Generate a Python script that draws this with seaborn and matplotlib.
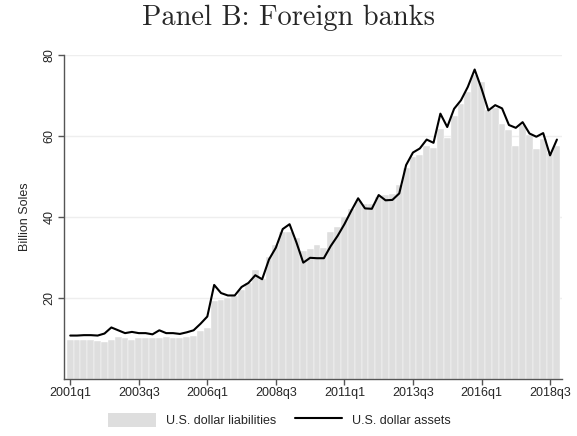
import numpy as np
import pandas as pd
import matplotlib
matplotlib.use("Agg")
import matplotlib.pyplot as plt
import seaborn as sns
from matplotlib.patches import Patch
from matplotlib.lines import Line2D

# quarters 2001q1 .. 2018q4
quarters = [f"{y}q{q}" for y in range(2001, 2019) for q in range(1, 5)]

# U.S. dollar liabilities (bars), billion soles
liabilities = [
    9.7, 9.6, 9.5, 9.5, 9.3, 9.0, 9.5, 10.3, 10.0, 9.7, 10.2, 10.0,
    10.1, 10.2, 10.3, 10.1, 10.2, 10.4, 10.7, 11.8, 12.5, 19.3, 19.4, 20.0,
    20.4, 22.0, 23.7, 27.0, 24.6, 30.0, 33.0, 36.3, 36.3, 34.7, 31.6, 32.0,
    33.1, 32.3, 36.3, 37.5, 39.9, 42.0, 44.0, 43.3, 43.3, 44.9, 45.3, 45.7,
    47.8, 52.0, 54.8, 55.3, 57.6, 57.0, 61.6, 59.5, 65.0, 68.0, 70.8, 75.0,
    73.4, 66.3, 66.8, 63.0, 61.4, 57.6, 62.6, 60.3, 56.8, 59.3, 55.8, 57.6,
]

# U.S. dollar assets (line), billion soles
assets = [
    10.7, 10.7, 10.8, 10.8, 10.7, 11.2, 12.7, 12.0, 11.3, 11.6, 11.3, 11.3,
    11.0, 12.0, 11.3, 11.3, 11.1, 11.5, 12.0, 13.6, 15.4, 23.2, 21.2, 20.6,
    20.6, 22.7, 23.7, 25.6, 24.6, 29.5, 32.4, 37.0, 38.2, 33.7, 28.7, 29.9,
    29.8, 29.8, 32.8, 35.3, 38.2, 41.5, 44.6, 42.1, 42.0, 45.4, 44.1, 44.2,
    45.8, 52.8, 55.9, 56.9, 59.1, 58.3, 65.5, 62.2, 66.7, 68.8, 72.1, 76.4,
    71.7, 66.3, 67.6, 66.8, 62.7, 62.0, 63.4, 60.6, 59.8, 60.7, 55.2, 59.1,
]

tick_labels = ["2001q1", "2003q3", "2006q1", "2008q3", "2011q1", "2013q3", "2016q1", "2018q3"]

df = pd.DataFrame({"quarter": quarters, "liabilities": liabilities, "assets": assets})
df["pos"] = np.arange(len(df))

sns.set_style("white")
plt.rcParams["font.family"] = ["Liberation Sans", "DejaVu Sans"]

fig = plt.figure(figsize=(5.77, 4.36), dpi=100)
ax = fig.add_axes([0.111, 0.131, 0.8625, 0.743])

bar_color = "#dedede"
sns.barplot(data=df, x="pos", y="liabilities", color=bar_color, width=1.0,
            edgecolor="white", linewidth=0.3, saturation=1, ax=ax, native_scale=True)
sns.lineplot(data=df, x="pos", y="assets", color="black", linewidth=1.5, ax=ax)

ax.set_xlim(-0.9, 71.7)
ax.set_ylim(0, 80)
ax.set_yticks([20, 40, 60, 80])
ax.set_yticklabels(["20", "40", "60", "80"], rotation=90, va="center", fontsize=9)
ax.set_xticks([quarters.index(t) for t in tick_labels])
ax.set_xticklabels(tick_labels, fontsize=9)
ax.grid(axis="y", color="#eeeeee", linewidth=1.0)
ax.set_axisbelow(True)
ax.set_xlabel("")
ax.set_ylabel("Billion Soles", fontsize=9, labelpad=9)

for side in ["top", "right"]:
    ax.spines[side].set_visible(False)
for side in ["left", "bottom"]:
    ax.spines[side].set_color("#555555")
    ax.spines[side].set_linewidth(1.0)
ax.tick_params(axis="both", direction="out", length=4, width=1.0, color="#555555",
               left=True, bottom=True, pad=2)

fig.suptitle("Panel B: Foreign banks", family=["cmr10", "DejaVu Serif"], fontsize=20.5, y=0.99)

handles = [Patch(facecolor=bar_color, edgecolor="none"),
           Line2D([0], [0], color="black", linewidth=1.5)]
fig.legend(handles, ["U.S. dollar liabilities", "U.S. dollar assets"],
           loc="lower center", bbox_to_anchor=(0.485, -0.005), ncol=2, frameon=False,
           fontsize=9, handlelength=3.8, handleheight=1.3, columnspacing=1.5)

fig.savefig("out.png", dpi=100)
